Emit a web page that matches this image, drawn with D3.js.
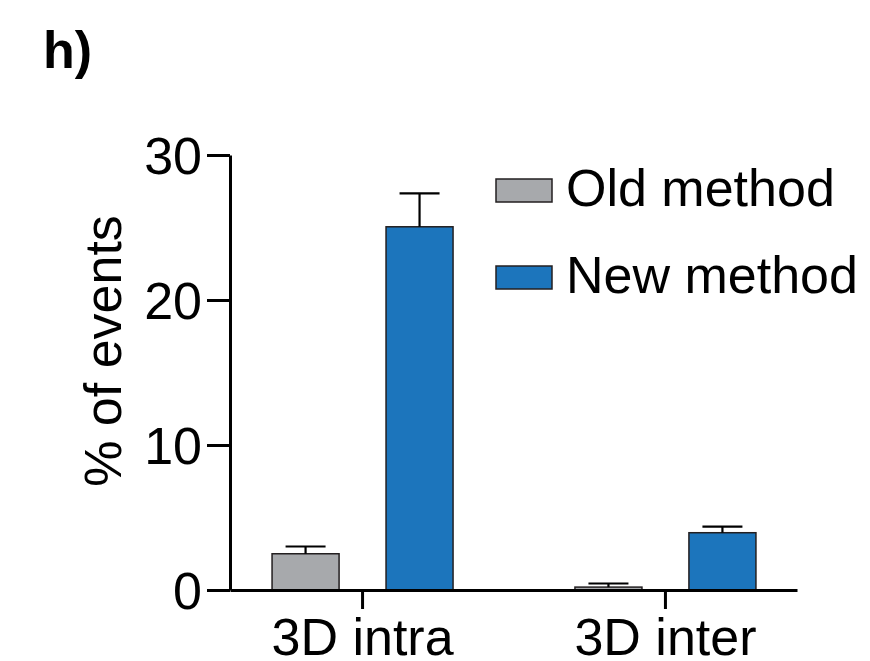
<!DOCTYPE html>
<html>
<head>
<meta charset="utf-8">
<script src="https://cdn.jsdelivr.net/npm/d3@7"></script>
<style>
  body { margin: 0; background: #fff; }
  svg text { font-family: "Liberation Sans", Arial, sans-serif; fill: #000; }
</style>
</head>
<body>
<svg></svg>
<script>
let width = 870;
let height = 661;
let svg = d3.select("svg")
            .attr("width", width)
            .attr("height", height);

// data
let categories = ["3D intra", "3D inter"];
let series = ["Old method", "New method"];
let colors = ["#a7a9ac", "#1c75bc"];
let oldMean = [2.5, 0.2];
let oldErr = [0.5, 0.25];
let newMean = [25.05, 3.95];
let newErr = [2.3, 0.42];
let yTicks = [0, 10, 20, 30];

let rows = [];
categories.forEach((c, i) => {
  rows.push({ cat: c, s: series[0], v: oldMean[i], e: oldErr[i] });
  rows.push({ cat: c, s: series[1], v: newMean[i], e: newErr[i] });
});

let xScale = d3.scalePoint()
               .domain(categories)
               .range([230, 797])
               .padding(0.436);

let xSub = d3.scaleBand()
             .domain(series)
             .range([-90, 91])
             .paddingInner(0.412);

let yScale = d3.scaleLinear()
               .domain([0, 30])
               .range([590, 155]);

let color = d3.scaleOrdinal().domain(series).range(colors);

// bars
svg.selectAll("rect.bar")
  .data(rows)
  .enter()
  .append("rect")
  .attr("class", "bar")
  .attr("x", (d) => xScale(d.cat) + xSub(d.s))
  .attr("y", (d) => yScale(d.v))
  .attr("width", xSub.bandwidth())
  .attr("height", (d) => yScale(0) - yScale(d.v))
  .attr("fill", (d) => color(d.s))
  .attr("stroke", "#231f20")
  .attr("stroke-width", 1.5);

// error bars (upper only)
let eb = svg.selectAll("g.err")
  .data(rows)
  .enter()
  .append("g")
  .attr("class", "err")
  .attr("stroke", "#000")
  .attr("stroke-width", 2.2);

eb.append("line")
  .attr("x1", (d) => xScale(d.cat) + xSub(d.s) + xSub.bandwidth() / 2)
  .attr("x2", (d) => xScale(d.cat) + xSub(d.s) + xSub.bandwidth() / 2)
  .attr("y1", (d) => yScale(d.v))
  .attr("y2", (d) => yScale(d.v + d.e));

eb.append("line")
  .attr("x1", (d) => xScale(d.cat) + xSub(d.s) + xSub.bandwidth() / 2 - 20)
  .attr("x2", (d) => xScale(d.cat) + xSub(d.s) + xSub.bandwidth() / 2 + 20)
  .attr("y1", (d) => yScale(d.v + d.e))
  .attr("y2", (d) => yScale(d.v + d.e));

// axes
let xAxis = svg.append("g")
   .attr("transform", "translate(0," + yScale(0) + ")")
   .call(d3.axisBottom(xScale).tickSize(19).tickSizeOuter(0).tickPadding(9));

let yAxis = svg.append("g")
   .attr("transform", "translate(230,0)")
   .call(d3.axisLeft(yScale).tickValues(yTicks).tickSize(23).tickSizeOuter(0).tickPadding(5));

[xAxis, yAxis].forEach((a) => {
  a.selectAll("path, line").attr("stroke", "#000").attr("stroke-width", 3);
  a.selectAll("text")
   .attr("fill", "#000")
   .style("font-size", "52px")
   .style("font-family", "'Liberation Sans', Arial, sans-serif");
});
yAxis.selectAll("text").attr("dy", "0.36em");
xAxis.selectAll("text").attr("dy", "0.72em");

// y label
svg.append("text")
   .attr("transform", "translate(121,351) rotate(-90)")
   .attr("text-anchor", "middle")
   .style("font-size", "52px")
   .text("% of events");

// panel letter
svg.append("text")
   .attr("x", 43)
   .attr("y", 68)
   .style("font-size", "52px")
   .style("font-weight", "bold")
   .text("h)");

// legend
let legend = svg.selectAll("g.legend")
  .data(series)
  .enter()
  .append("g")
  .attr("class", "legend")
  .attr("transform", (d, i) => "translate(496," + (179 + i * 87) + ")");

legend.append("rect")
  .attr("width", 56)
  .attr("height", 23)
  .attr("fill", (d) => color(d))
  .attr("stroke", "#231f20")
  .attr("stroke-width", 1.5);

legend.append("text")
  .attr("x", 70)
  .attr("y", 27)
  .style("font-size", "52px")
  .text((d) => d);
</script>
</body>
</html>
